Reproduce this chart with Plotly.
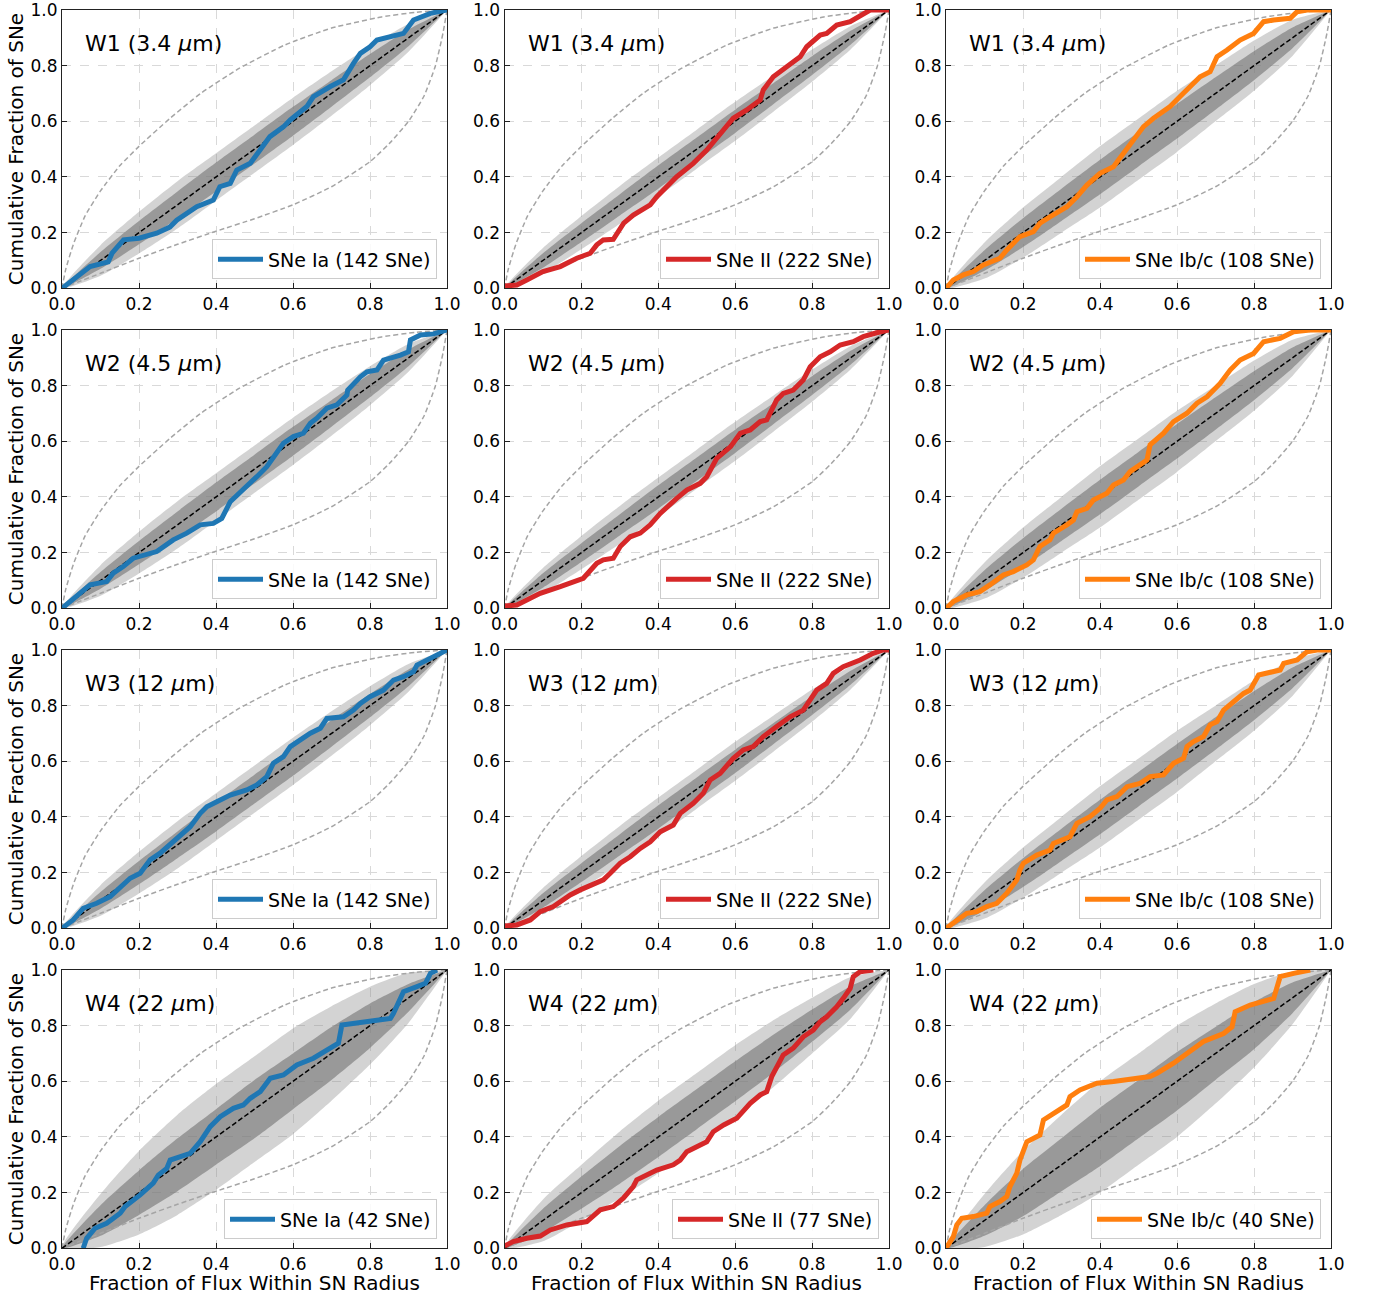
import plotly.graph_objects as go
from plotly.subplots import make_subplots

# ---------------- data ----------------
tick_vals = [0.0, 0.2, 0.4, 0.6, 0.8, 1.0]
tick_text = ["0.0", "0.2", "0.4", "0.6", "0.8", "1.0"]

diag_x = [0.0, 1.0]
diag_y = [0.0, 1.0]

# grey dashed envelope curves (same in every panel)
env_up_x = [0, 0.01, 0.03, 0.06, 0.1, 0.15, 0.2, 0.28, 0.36, 0.46, 0.58, 0.7, 0.83, 0.92, 1.0]
env_up_y = [0, 0.07, 0.16, 0.26, 0.35, 0.44, 0.51, 0.61, 0.70, 0.79, 0.875, 0.935, 0.975, 0.992, 1.0]
env_lo_x = [0, 0.05, 0.1, 0.2, 0.3, 0.4, 0.5, 0.6, 0.7, 0.8, 0.85, 0.9, 0.94, 0.97, 0.99, 1.0]
env_lo_y = [0, 0.027, 0.054, 0.108, 0.158, 0.205, 0.25, 0.3, 0.365, 0.455, 0.52, 0.6, 0.69, 0.8, 0.92, 1.0]

# spread of the grey simulated-sample cloud around the diagonal (half widths)
band_x = [0.0, 0.1, 0.2, 0.3, 0.4, 0.5, 0.6, 0.7, 0.8, 0.9, 1.0]
outer_142 = [0, 0.055, 0.075, 0.085, 0.085, 0.085, 0.085, 0.08, 0.07, 0.05, 0]
core_142 = [0, 0.03, 0.042, 0.048, 0.052, 0.052, 0.052, 0.048, 0.042, 0.03, 0]
outer_222 = [0, 0.045, 0.06, 0.068, 0.07, 0.07, 0.07, 0.065, 0.058, 0.042, 0]
core_222 = [0, 0.026, 0.034, 0.038, 0.042, 0.042, 0.042, 0.038, 0.034, 0.025, 0]
outer_108 = [0, 0.065, 0.09, 0.1, 0.11, 0.11, 0.11, 0.1, 0.09, 0.065, 0]
core_108 = [0, 0.037, 0.052, 0.058, 0.062, 0.062, 0.062, 0.058, 0.052, 0.037, 0]
outer_42 = [0, 0.095, 0.15, 0.18, 0.19, 0.19, 0.19, 0.17, 0.14, 0.09, 0]
core_42 = [0, 0.055, 0.08, 0.095, 0.1, 0.105, 0.1, 0.095, 0.08, 0.05, 0]
outer_77 = [0, 0.075, 0.1, 0.12, 0.13, 0.13, 0.13, 0.12, 0.1, 0.075, 0]
core_77 = [0, 0.042, 0.058, 0.068, 0.072, 0.072, 0.072, 0.068, 0.058, 0.042, 0]
outer_40 = [0, 0.095, 0.15, 0.18, 0.2, 0.2, 0.2, 0.18, 0.15, 0.095, 0]
core_40 = [0, 0.055, 0.085, 0.095, 0.105, 0.105, 0.105, 0.095, 0.085, 0.055, 0]

# observed cumulative distributions
w1_ia_x = [0, 0.038, 0.073, 0.12, 0.13, 0.16, 0.2, 0.246, 0.28, 0.298, 0.35, 0.393, 0.41, 0.437, 0.454, 0.489, 0.523, 0.54, 0.575, 0.593, 0.636, 0.653, 0.697, 0.731, 0.757, 0.775, 0.8, 0.818, 0.887, 0.913, 0.957, 1.0]
w1_ia_y = [0, 0.042, 0.078, 0.095, 0.126, 0.174, 0.18, 0.198, 0.22, 0.245, 0.293, 0.317, 0.365, 0.377, 0.425, 0.449, 0.509, 0.545, 0.58, 0.605, 0.653, 0.689, 0.725, 0.749, 0.808, 0.844, 0.868, 0.892, 0.916, 0.964, 0.988, 1.0]

w1_ii_x = [0, 0.032, 0.058, 0.1, 0.145, 0.188, 0.223, 0.24, 0.257, 0.283, 0.31, 0.335, 0.379, 0.396, 0.448, 0.491, 0.526, 0.561, 0.595, 0.63, 0.665, 0.673, 0.699, 0.734, 0.769, 0.786, 0.821, 0.838, 0.864, 0.899, 0.933, 0.951, 1.0]
w1_ii_y = [0.008, 0.012, 0.03, 0.06, 0.078, 0.108, 0.126, 0.156, 0.174, 0.176, 0.234, 0.263, 0.3, 0.329, 0.401, 0.449, 0.497, 0.557, 0.611, 0.641, 0.677, 0.713, 0.76, 0.796, 0.832, 0.868, 0.91, 0.916, 0.946, 0.958, 0.988, 1.0, 1.0]

w1_ibc_x = [0, 0.019, 0.045, 0.071, 0.097, 0.14, 0.158, 0.192, 0.227, 0.244, 0.27, 0.314, 0.34, 0.366, 0.4, 0.435, 0.461, 0.487, 0.513, 0.539, 0.582, 0.608, 0.626, 0.66, 0.686, 0.704, 0.73, 0.764, 0.799, 0.825, 0.851, 0.894, 0.912, 0.938, 1.0]
w1_ibc_y = [0, 0.03, 0.048, 0.06, 0.084, 0.108, 0.138, 0.186, 0.204, 0.234, 0.257, 0.293, 0.329, 0.371, 0.413, 0.437, 0.485, 0.533, 0.581, 0.611, 0.653, 0.689, 0.713, 0.76, 0.778, 0.832, 0.856, 0.892, 0.916, 0.958, 0.964, 0.97, 0.994, 1.0, 1.0]

w2_ia_x = [0, 0.038, 0.073, 0.116, 0.133, 0.159, 0.185, 0.246, 0.289, 0.324, 0.359, 0.393, 0.415, 0.437, 0.471, 0.506, 0.532, 0.549, 0.575, 0.601, 0.627, 0.645, 0.662, 0.688, 0.714, 0.74, 0.742, 0.775, 0.792, 0.818, 0.835, 0.879, 0.9, 0.905, 0.931, 0.965, 1.0]
w2_ia_y = [0, 0.042, 0.084, 0.096, 0.126, 0.15, 0.18, 0.204, 0.246, 0.27, 0.3, 0.305, 0.323, 0.383, 0.425, 0.473, 0.509, 0.545, 0.593, 0.617, 0.629, 0.665, 0.683, 0.719, 0.731, 0.766, 0.784, 0.832, 0.85, 0.856, 0.892, 0.91, 0.922, 0.964, 0.982, 0.986, 1.0]

w2_ii_x = [0, 0.032, 0.067, 0.093, 0.145, 0.171, 0.205, 0.24, 0.257, 0.283, 0.301, 0.327, 0.353, 0.379, 0.405, 0.448, 0.474, 0.509, 0.526, 0.552, 0.57, 0.588, 0.613, 0.639, 0.665, 0.682, 0.708, 0.725, 0.751, 0.777, 0.795, 0.821, 0.847, 0.873, 0.907, 0.933, 0.968, 1.0]
w2_ii_y = [0.008, 0.012, 0.036, 0.054, 0.078, 0.09, 0.108, 0.162, 0.174, 0.18, 0.222, 0.257, 0.27, 0.3, 0.341, 0.395, 0.425, 0.449, 0.473, 0.539, 0.563, 0.581, 0.629, 0.641, 0.671, 0.677, 0.749, 0.772, 0.784, 0.82, 0.868, 0.904, 0.922, 0.946, 0.958, 0.976, 0.99, 1.0]

w2_ibc_x = [0, 0.019, 0.054, 0.088, 0.114, 0.149, 0.175, 0.21, 0.227, 0.244, 0.27, 0.279, 0.314, 0.331, 0.34, 0.366, 0.383, 0.418, 0.435, 0.461, 0.478, 0.522, 0.53, 0.565, 0.591, 0.626, 0.652, 0.678, 0.712, 0.738, 0.764, 0.799, 0.825, 0.868, 0.903, 0.946, 1.0]
w2_ibc_y = [0, 0.024, 0.048, 0.06, 0.084, 0.12, 0.132, 0.156, 0.174, 0.222, 0.246, 0.27, 0.3, 0.317, 0.347, 0.359, 0.389, 0.413, 0.443, 0.461, 0.491, 0.533, 0.587, 0.629, 0.671, 0.701, 0.737, 0.76, 0.808, 0.856, 0.892, 0.916, 0.958, 0.97, 0.994, 1.0, 1.0]

w3_ia_x = [0, 0.029, 0.055, 0.09, 0.125, 0.151, 0.177, 0.203, 0.229, 0.255, 0.281, 0.307, 0.333, 0.359, 0.376, 0.402, 0.437, 0.48, 0.506, 0.532, 0.549, 0.575, 0.593, 0.619, 0.645, 0.671, 0.688, 0.731, 0.757, 0.775, 0.8, 0.835, 0.861, 0.887, 0.913, 0.922, 0.957, 1.0]
w3_ia_y = [0, 0.03, 0.072, 0.09, 0.114, 0.15, 0.18, 0.198, 0.246, 0.27, 0.3, 0.335, 0.365, 0.413, 0.437, 0.455, 0.479, 0.497, 0.515, 0.545, 0.593, 0.617, 0.653, 0.677, 0.701, 0.719, 0.754, 0.76, 0.784, 0.808, 0.832, 0.856, 0.892, 0.904, 0.922, 0.946, 0.97, 1.0]

w3_ii_x = [0, 0.032, 0.067, 0.093, 0.127, 0.145, 0.171, 0.197, 0.231, 0.257, 0.275, 0.301, 0.327, 0.353, 0.379, 0.405, 0.439, 0.457, 0.491, 0.517, 0.535, 0.561, 0.595, 0.621, 0.647, 0.673, 0.708, 0.743, 0.777, 0.795, 0.812, 0.838, 0.855, 0.881, 0.925, 0.959, 0.985, 1.0]
w3_ii_y = [0.008, 0.012, 0.03, 0.06, 0.078, 0.096, 0.12, 0.138, 0.156, 0.174, 0.198, 0.234, 0.257, 0.287, 0.311, 0.347, 0.371, 0.413, 0.449, 0.485, 0.533, 0.557, 0.611, 0.641, 0.653, 0.689, 0.725, 0.76, 0.784, 0.82, 0.856, 0.88, 0.916, 0.94, 0.964, 0.988, 1.0, 1.0]

w3_ibc_x = [0, 0.028, 0.054, 0.08, 0.106, 0.132, 0.158, 0.184, 0.192, 0.201, 0.236, 0.27, 0.279, 0.322, 0.34, 0.374, 0.4, 0.418, 0.444, 0.47, 0.504, 0.53, 0.565, 0.591, 0.617, 0.626, 0.643, 0.669, 0.686, 0.704, 0.721, 0.747, 0.773, 0.79, 0.812, 0.868, 0.877, 0.912, 0.938, 0.964, 1.0]
w3_ibc_y = [0, 0.03, 0.054, 0.06, 0.078, 0.09, 0.126, 0.174, 0.21, 0.234, 0.263, 0.281, 0.305, 0.329, 0.377, 0.401, 0.431, 0.461, 0.473, 0.509, 0.521, 0.545, 0.551, 0.593, 0.611, 0.653, 0.671, 0.689, 0.731, 0.743, 0.784, 0.814, 0.844, 0.856, 0.91, 0.928, 0.952, 0.964, 0.994, 1.0, 1.0]

w4_ia_x = [0.055, 0.064, 0.086, 0.116, 0.151, 0.164, 0.203, 0.237, 0.25, 0.272, 0.281, 0.307, 0.333, 0.359, 0.385, 0.411, 0.445, 0.471, 0.489, 0.515, 0.541, 0.575, 0.61, 0.653, 0.688, 0.718, 0.727, 0.792, 0.853, 0.861, 0.887, 0.922, 0.944, 0.957, 0.974]
w4_ia_y = [0, 0.036, 0.072, 0.09, 0.126, 0.15, 0.192, 0.234, 0.263, 0.287, 0.317, 0.329, 0.341, 0.383, 0.437, 0.473, 0.503, 0.515, 0.539, 0.563, 0.611, 0.623, 0.659, 0.683, 0.713, 0.737, 0.802, 0.814, 0.826, 0.844, 0.922, 0.94, 0.952, 0.988, 1.0]

w4_ii_x = [0, 0.023, 0.058, 0.093, 0.119, 0.162, 0.214, 0.231, 0.249, 0.283, 0.309, 0.335, 0.344, 0.379, 0.396, 0.439, 0.457, 0.474, 0.509, 0.526, 0.543, 0.57, 0.604, 0.639, 0.665, 0.682, 0.695, 0.708, 0.725, 0.751, 0.777, 0.803, 0.821, 0.838, 0.864, 0.881, 0.899, 0.907, 0.925, 0.959]
w4_ii_y = [0.008, 0.024, 0.036, 0.044, 0.066, 0.084, 0.096, 0.114, 0.138, 0.15, 0.18, 0.222, 0.246, 0.27, 0.281, 0.3, 0.317, 0.347, 0.371, 0.383, 0.419, 0.443, 0.467, 0.521, 0.551, 0.563, 0.617, 0.653, 0.695, 0.719, 0.76, 0.784, 0.814, 0.832, 0.868, 0.898, 0.934, 0.976, 0.994, 1.0]

w4_ibc_x = [0, 0.019, 0.028, 0.041, 0.071, 0.106, 0.114, 0.14, 0.158, 0.166, 0.184, 0.192, 0.21, 0.244, 0.253, 0.279, 0.314, 0.322, 0.348, 0.392, 0.435, 0.53, 0.548, 0.591, 0.626, 0.669, 0.721, 0.743, 0.751, 0.79, 0.851, 0.86, 0.868, 0.903, 0.946]
w4_ibc_y = [0, 0.042, 0.084, 0.108, 0.114, 0.126, 0.15, 0.168, 0.186, 0.222, 0.27, 0.317, 0.383, 0.407, 0.461, 0.485, 0.515, 0.545, 0.569, 0.593, 0.599, 0.617, 0.629, 0.665, 0.701, 0.743, 0.772, 0.796, 0.85, 0.874, 0.898, 0.94, 0.976, 0.988, 1.0]

panel_titles = ["W1 (3.4 <i>\u03bc</i>m)", "W2 (4.5 <i>\u03bc</i>m)",
                "W3 (12 <i>\u03bc</i>m)", "W4 (22 <i>\u03bc</i>m)"]
type_names = ["SNe Ia", "SNe II", "SNe Ib/c"]
sn_counts = [[142, 222, 108], [142, 222, 108], [142, 222, 108], [42, 77, 40]]
type_colors = ["#1f77b4", "#d62728", "#ff7f0e"]

x_title = "Fraction of Flux Within SN Radius"
y_title = "Cumulative Fraction of SNe"

curves = [
    [(w1_ia_x, w1_ia_y), (w1_ii_x, w1_ii_y), (w1_ibc_x, w1_ibc_y)],
    [(w2_ia_x, w2_ia_y), (w2_ii_x, w2_ii_y), (w2_ibc_x, w2_ibc_y)],
    [(w3_ia_x, w3_ia_y), (w3_ii_x, w3_ii_y), (w3_ibc_x, w3_ibc_y)],
    [(w4_ia_x, w4_ia_y), (w4_ii_x, w4_ii_y), (w4_ibc_x, w4_ibc_y)],
]
bands = {142: (outer_142, core_142), 222: (outer_222, core_222),
         108: (outer_108, core_108), 42: (outer_42, core_42),
         77: (outer_77, core_77), 40: (outer_40, core_40)}

# ---------------- layout geometry (pixels) ----------------
W, H = 1380, 1298
col_px = [(62, 447), (504.5, 889), (946, 1331)]
row_px = [(10, 288.3), (330, 608.3), (650, 928.3), (970, 1248.3)]
FONT = "DejaVu Sans"

fig = make_subplots(rows=4, cols=3)

annotations = []
legends = {}

def band_poly(h):
    up = [min(1.0, x + d) for x, d in zip(band_x, h)]
    lo = [max(0.0, x - d) for x, d in zip(band_x, h)]
    return band_x + band_x[::-1], up + lo[::-1]

for r in range(4):
    for c in range(3):
        n = r * 3 + c + 1
        leg = "legend" if n == 1 else f"legend{n}"
        N = sn_counts[r][c]
        outer, core = bands[N]
        px_, py_ = band_poly(outer)
        fig.add_trace(go.Scatter(x=px_, y=py_, mode="lines", fill="toself", line_shape="spline",
                                 fillcolor="rgba(140,140,140,0.38)", line=dict(width=0, smoothing=0.6),
                                 hoverinfo="skip", showlegend=False), row=r + 1, col=c + 1)
        px_, py_ = band_poly(core)
        fig.add_trace(go.Scatter(x=px_, y=py_, mode="lines", fill="toself", line_shape="spline",
                                 fillcolor="rgba(115,115,115,0.6)", line=dict(width=0, smoothing=0.6),
                                 hoverinfo="skip", showlegend=False), row=r + 1, col=c + 1)
        for ex, ey in ((env_up_x, env_up_y), (env_lo_x, env_lo_y)):
            fig.add_trace(go.Scatter(x=ex, y=ey, mode="lines", line_shape="spline",
                                     line=dict(color="#a5a5a5", width=1.5, dash="5px,3px", smoothing=0.5),
                                     hoverinfo="skip", showlegend=False), row=r + 1, col=c + 1)
        fig.add_trace(go.Scatter(x=diag_x, y=diag_y, mode="lines",
                                 line=dict(color="black", width=1.5, dash="5px,2.5px"),
                                 hoverinfo="skip", showlegend=False), row=r + 1, col=c + 1)
        cx, cy = curves[r][c]
        fig.add_trace(go.Scatter(x=cx, y=cy, mode="lines",
                                 line=dict(color=type_colors[c], width=5),
                                 name=f"{type_names[c]} ({N} SNe)",
                                 legend=leg, showlegend=True), row=r + 1, col=c + 1)

        x0, x1 = col_px[c]
        y0, y1 = row_px[r]
        xa = "xaxis" if n == 1 else f"xaxis{n}"
        ya = "yaxis" if n == 1 else f"yaxis{n}"
        axis_common = dict(range=[0, 1], tickvals=tick_vals, ticktext=tick_text,
                           ticks="inside", ticklen=5, tickwidth=1, tickcolor="#222",
                           showline=True, linecolor="#222", linewidth=1, mirror=True,
                           showgrid=True, gridcolor="#d9d9d9", gridwidth=1, griddash="dash",
                           zeroline=False, tickfont=dict(family=FONT, size=17, color="black"),
                           ticklabeloverflow="allow",
                           automargin=False, fixedrange=True)
        fig.layout[xa].update(domain=[x0 / W, x1 / W], **axis_common)
        fig.layout[ya].update(domain=[1 - y1 / H, 1 - y0 / H], **axis_common)

        xd = "x domain" if n == 1 else f"x{n} domain"
        yd = "y domain" if n == 1 else f"y{n} domain"
        annotations.append(dict(text=panel_titles[r], xref=xd, yref=yd, x=0.055, y=0.88,
                                xanchor="left", yanchor="middle", showarrow=False,
                                font=dict(family=FONT, size=22, color="black")))
        legends[leg] = dict(x=(x1 - 10) / W, y=1 - (y1 - 9) / H, xanchor="right", yanchor="bottom",
                            xref="container", yref="container", itemwidth=45,
                            bgcolor="rgba(255,255,255,0.85)", bordercolor="#cccccc", borderwidth=1,
                            font=dict(family=FONT, size=19, color="black"))

# axis titles
for r in range(4):
    y0, y1 = row_px[r]
    annotations.append(dict(text=y_title, xref="paper", yref="paper", x=16 / W,
                            y=1 - (y0 + y1) / 2 / H, textangle=-90, showarrow=False,
                            xanchor="center", yanchor="middle",
                            font=dict(family=FONT, size=20, color="black")))
for c in range(3):
    x0, x1 = col_px[c]
    annotations.append(dict(text=x_title, xref="paper", yref="paper", x=(x0 + x1) / 2 / W,
                            y=1 - 1283 / H, showarrow=False, xanchor="center", yanchor="middle",
                            font=dict(family=FONT, size=20, color="black")))

fig.update_layout(width=W, height=H, autosize=False,
                  margin=dict(l=0, r=0, t=0, b=0, pad=0, autoexpand=False),
                  paper_bgcolor="white", plot_bgcolor="white",
                  font=dict(family=FONT, color="black"),
                  annotations=annotations, **legends)

fig.write_html("out.html", config={"displayModeBar": False},
               post_script="document.body.style.margin='0px';document.body.style.overflow='hidden';")
